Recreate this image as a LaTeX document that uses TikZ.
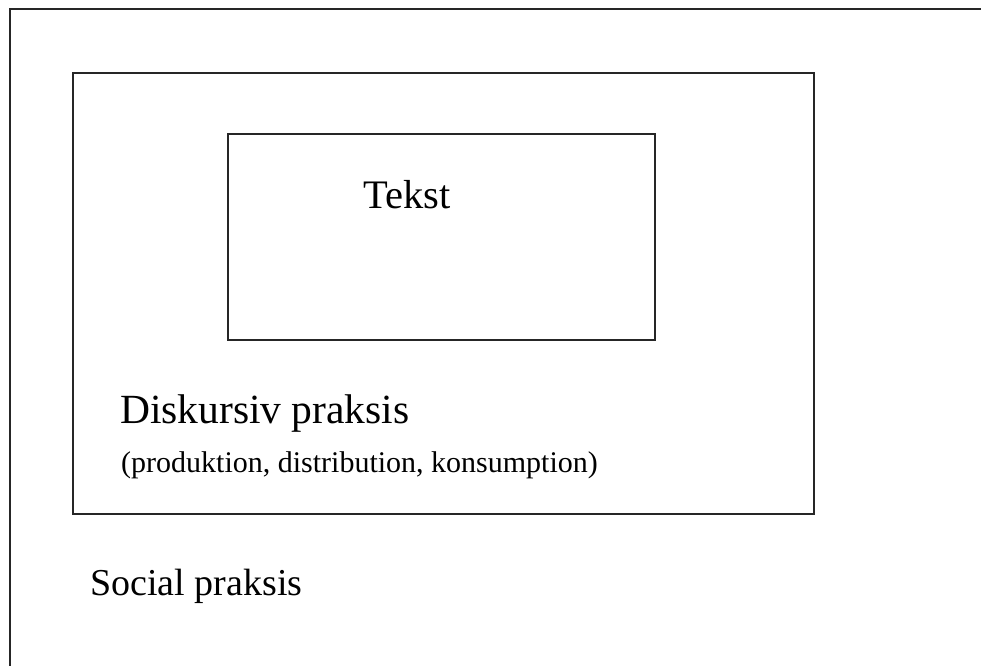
\documentclass[tikz,border=0pt]{standalone}
\usepackage{fontspec}
\setmainfont{Liberation Serif}
\begin{document}
\begin{tikzpicture}[x=1pt,y=-1pt,
  frame/.style={draw=black!85,line width=2pt},
  boxnode/.style={frame,rectangle,inner sep=0pt,anchor=north west},
  lbl/.style={inner sep=0pt,anchor=base west}]
\useasboundingbox (0,0) rectangle (981,666);
% outer frame: open to the right and bottom
\coordinate (otr) at (981,9);
\coordinate (otl) at (10,9);
\coordinate (obl) at (10,666);
\draw[frame] (otr) -- (otl) -- (obl);
\node[boxnode,minimum width=741pt,minimum height=441pt] (disk) at (72,72) {};
\node[boxnode,minimum width=427pt,minimum height=206pt] (tekstbox) at (227,133) {};
\node[lbl,font=\fontsize{40.5}{44}\selectfont] (tekst) at (363,208) {Tekst};
\node[lbl,font=\fontsize{41.5}{44}\selectfont] (diskl) at (120,423) {Diskursiv praksis};
\node[lbl,font=\fontsize{30}{34}\selectfont] (diskp) at (121,472) {(produktion, distribution, konsumption)};
\node[lbl,font=\fontsize{38}{44}\selectfont] (social) at (90,595) {Social praksis};
\end{tikzpicture}
\end{document}
